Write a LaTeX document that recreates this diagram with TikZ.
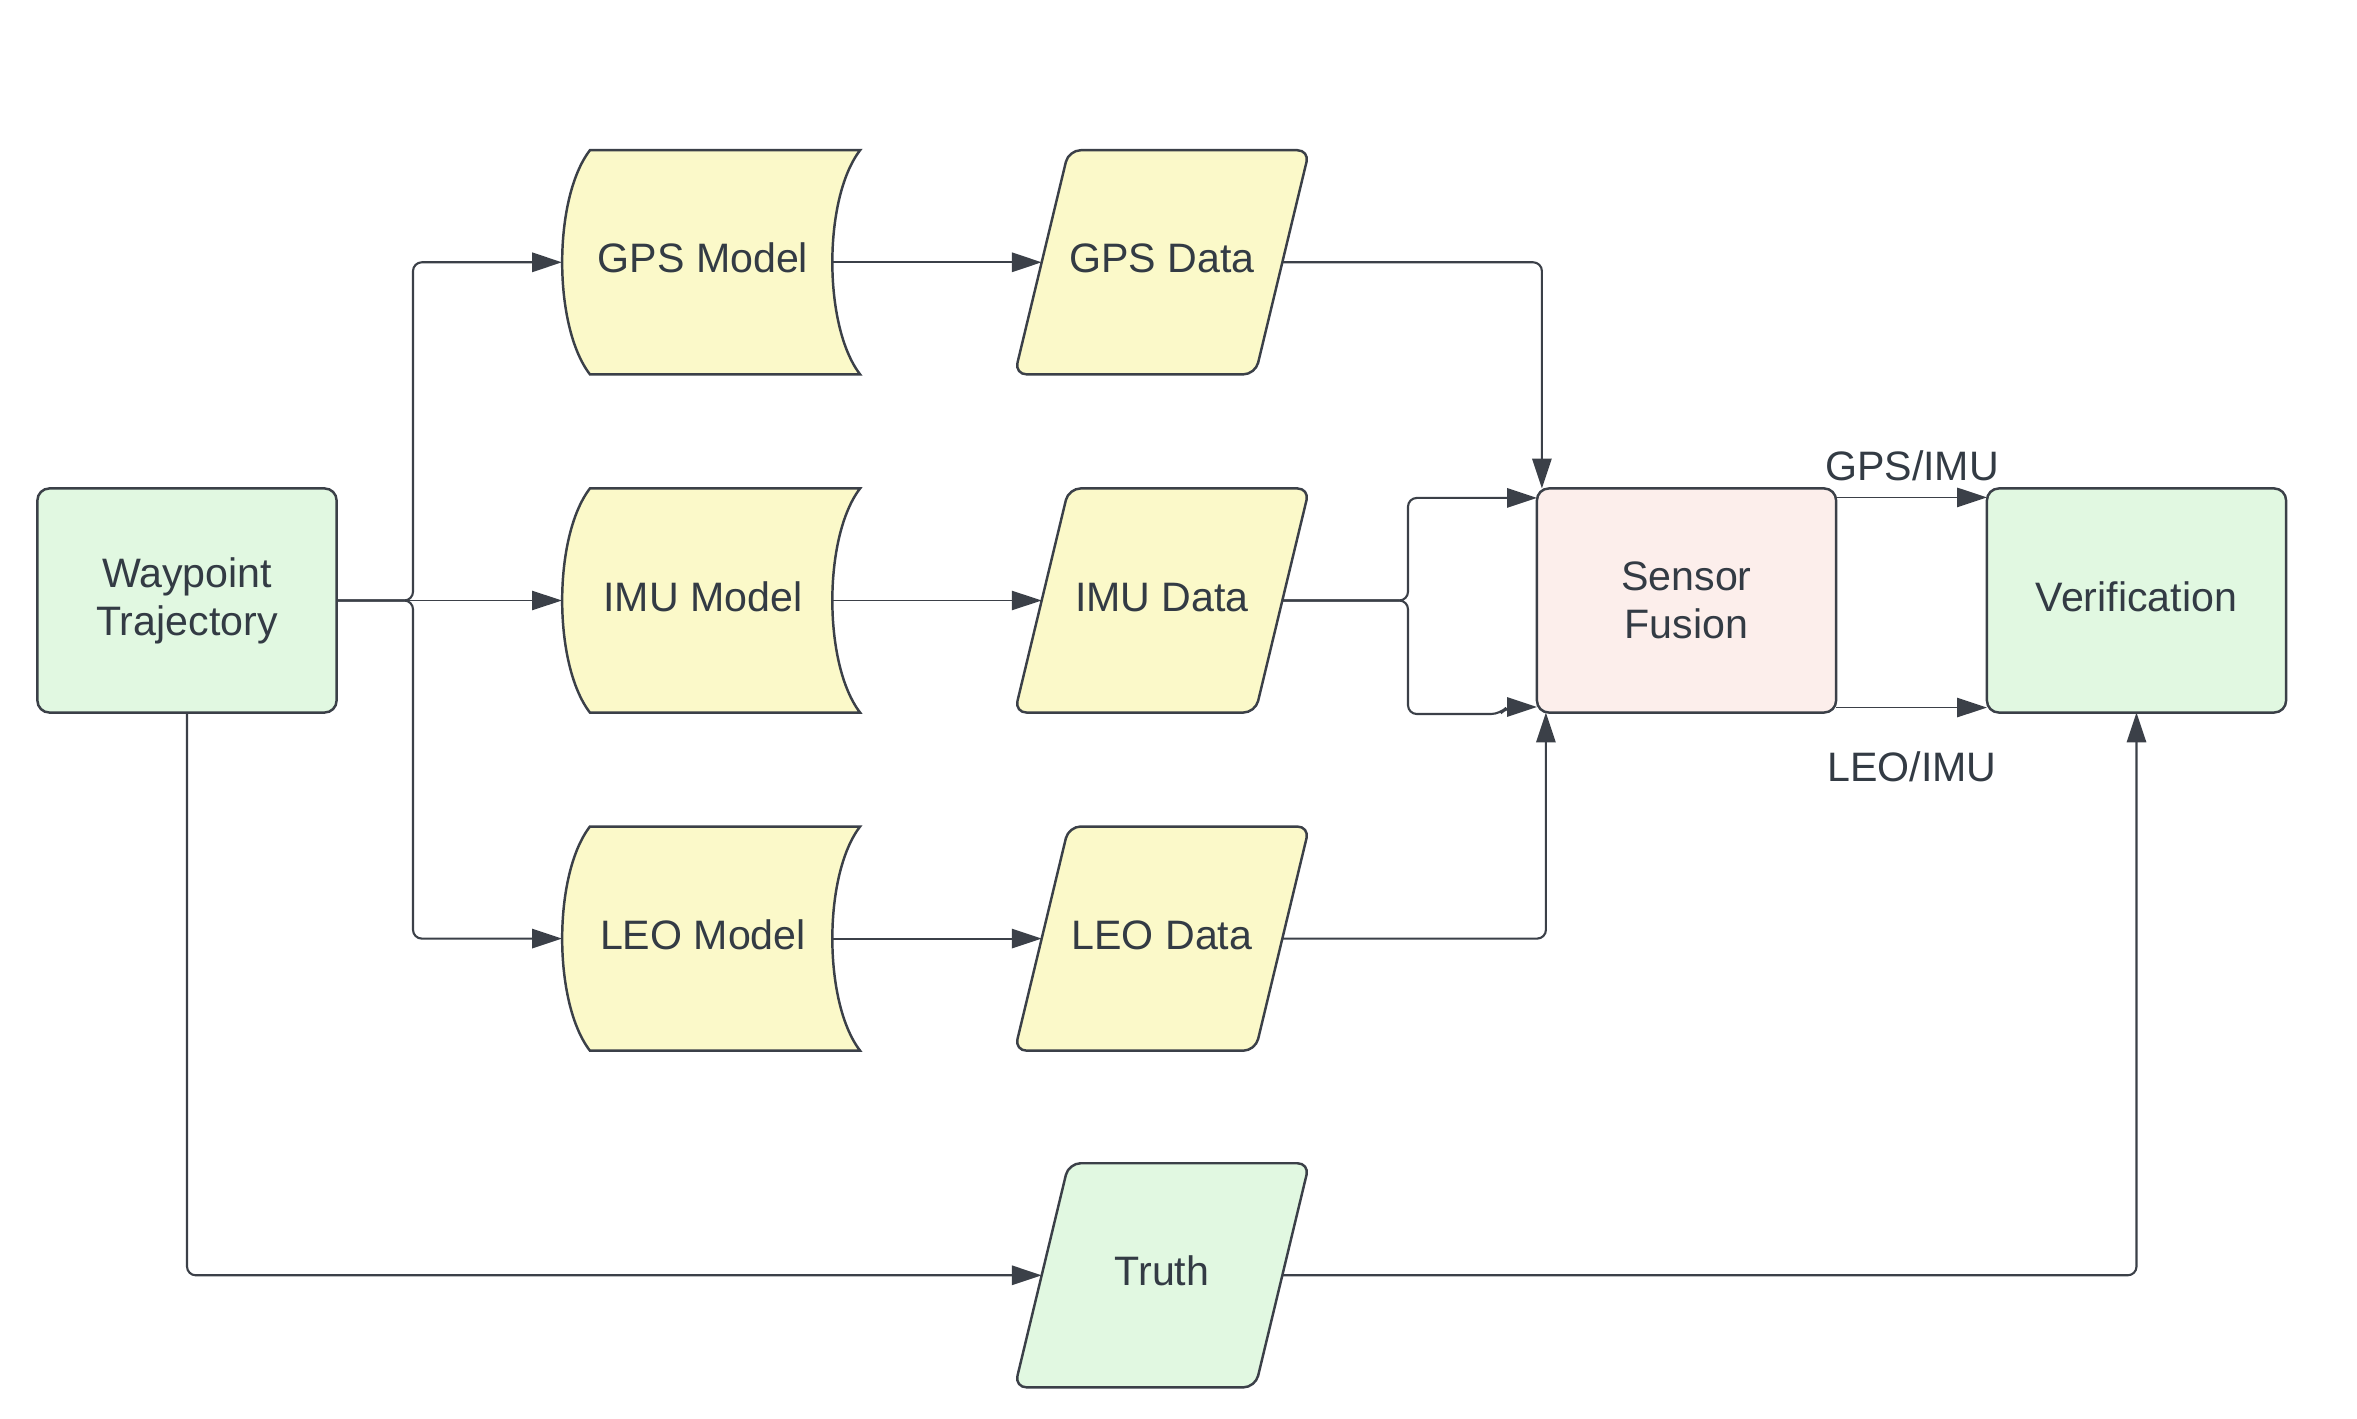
\documentclass[tikz,border=0pt]{standalone}
\usepackage{fontspec}
\setmainfont{Liberation Sans}
\usetikzlibrary{arrows.meta,calc,backgrounds}
\definecolor{gfill}{HTML}{E1F8E1}
\definecolor{yfill}{HTML}{FBF9C9}
\definecolor{pfill}{HTML}{FCEEEB}
\definecolor{ln}{HTML}{3B4048}
\definecolor{txt}{HTML}{333B44}
\tikzset{
  base/.style={font=\fontsize{11.7}{13.7}\selectfont, text=txt, align=center, inner sep=0pt, outer sep=0pt},
  oneline/.style={text height=9pt, text depth=3pt},
  box/.style={base, draw=ln, line width=0.7pt, rounded corners=3.4pt, minimum width=2.99cm, minimum height=2.24cm},
  greenbox/.style={box, fill=gfill},
  pinkbox/.style={box, fill=pfill},
  holder/.style={base, oneline, minimum height=2.24cm},
  modelnode/.style={holder, minimum width=2.70cm, execute at begin node={\kern3.4pt}},
  datanode/.style={holder, minimum width=2.405cm},
  shapeline/.style={draw=ln, line width=0.7pt},
  conn/.style={draw=ln, line width=0.6pt, rounded corners=2.5pt, -{Triangle[length=8.5pt,width=5.5pt]}},
}
\newcommand\modelshape[1]{%
  \path[shapeline, fill=yfill]
    ($(#1.north west)+(28,0)$) -- ($(#1.north east)+(28,0)$)
    .. controls ($(#1.north east)+(-9,48)$) and ($(#1.south east)+(-9,-48)$) .. ($(#1.south east)+(28,0)$)
    -- ($(#1.south west)+(28,0)$)
    .. controls ($(#1.south west)+(-9,-48)$) and ($(#1.north west)+(-9,48)$) .. cycle;}
\newcommand\datashape[2]{%
  \path[shapeline, fill=#2, rounded corners=3.4pt]
    ($(#1.south west)+(-27,0)$) -- ($(#1.north west)+(27,0)$) -- ($(#1.north east)+(27,0)$)
    -- ($(#1.south east)+(-27,0)$) -- cycle;}
\begin{document}
\begin{tikzpicture}[x=0.01cm,y=-0.01cm]
\useasboundingbox (0,0) rectangle (2357,1419);

% nodes
\node[greenbox] (wp) at (187,600.5) {Waypoint\\Trajectory};
\node[modelnode] (gpsm) at (697,262.3) {GPS Model};
\node[modelnode] (imum) at (697,600.5) {IMU Model};
\node[modelnode] (leom) at (697,938.6) {LEO Model};
\node[datanode] (gpsd) at (1162,262.3) {GPS Data};
\node[datanode] (imud) at (1162,600.5) {IMU Data};
\node[datanode] (leod) at (1162,938.6) {LEO Data};
\node[datanode] (truth) at (1162,1275.3) {Truth};
\node[pinkbox] (fus) at (1686.5,600.5) {Sensor\\Fusion};
\node[greenbox, oneline] (ver) at (2136.5,600.5) {Verification};
\node[base] (lblgps) at (1912,466) {GPS/IMU};
\node[base] (lblleo) at (1912,766.5) {LEO/IMU};

\begin{scope}[on background layer]
\modelshape{gpsm}
\modelshape{imum}
\modelshape{leom}
\datashape{gpsd}{yfill}
\datashape{imud}{yfill}
\datashape{leod}{yfill}
\datashape{truth}{gfill}
\end{scope}

% helper coordinates
\coordinate (br) at (413,600.5);
\coordinate (ims) at (1408,600.5);
\coordinate (hopA) at (1500,714);
\coordinate (hopB) at (1507,707);

% connectors
\draw[conn] (wp.east) -- (br) |- (gpsm.west);
\draw[conn, line width=0.4pt] (wp.east) -- (imum.west);
\draw[conn] (wp.east) -- (br) |- (leom.west);

\draw[conn] (gpsm.east) -- (gpsd.west);
\draw[conn, line width=0.4pt] (imum.east) -- (imud.west);
\draw[conn] (leom.east) -- (leod.west);

\draw[conn] (gpsd.east) -| ($(fus.north west)+(5,0)$);
\draw[conn] (imud.east) -- (ims) |- ($(fus.north west)+(0,9.5)$);
\draw[conn] (imud.east) -- (ims) |- (hopA) -- (hopB) -- (fus.west |- hopB);
\draw[conn] (leod.east) -| ($(fus.south west)+(9,0)$);

\draw[conn, line width=0.5pt] ($(fus.north east)+(0,9)$) -- ($(ver.north west)+(0,9)$);
\draw[conn, line width=0.5pt] ($(fus.south east)+(0,-5)$) -- ($(ver.south west)+(0,-5)$);

\draw[conn] (wp.south) |- (truth.west);
\draw[conn] (truth.east) -| (ver.south);
\end{tikzpicture}
\end{document}
